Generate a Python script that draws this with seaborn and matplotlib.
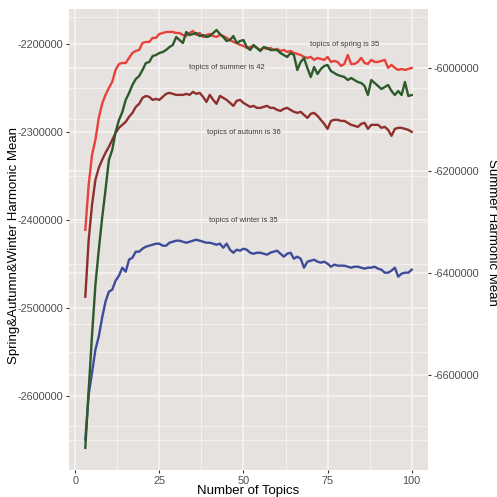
import matplotlib
matplotlib.use("Agg")
import numpy as np
import pandas as pd
import seaborn as sns
from matplotlib import pyplot as plt
from matplotlib import transforms
from matplotlib.ticker import FuncFormatter, MultipleLocator

topics = list(range(3, 101))

spring = [-2411000, -2359900, -2325800, -2308800, -2283800, -2267800, -2257600, -2249700, -2242800, -2229200,
          -2222400, -2221300, -2221300, -2215600, -2209900, -2207600, -2206500, -2198500, -2197400, -2197400,
          -2192800, -2192800, -2188300, -2187200, -2186000, -2186000, -2186000, -2187200, -2187200, -2189400,
          -2190600, -2187200, -2184900, -2189400, -2187200, -2191700, -2189400, -2188300, -2190600, -2191700,
          -2189400, -2190600, -2192800, -2195100, -2197400, -2198500, -2200800, -2201900, -2204200, -2203100,
          -2201900, -2204200, -2206500, -2204200, -2205300, -2204200, -2206500, -2205300, -2207600, -2206500,
          -2208800, -2207600, -2209900, -2211000, -2212200, -2214400, -2215600, -2214400, -2217800, -2215600,
          -2216700, -2217800, -2214400, -2220100, -2219000, -2220100, -2224700, -2222400, -2212200, -2222400,
          -2222400, -2220100, -2215600, -2221300, -2222400, -2217800, -2220100, -2220100, -2219000, -2217800,
          -2226900, -2223500, -2226900, -2229200, -2228100, -2229200, -2228100, -2226900]

summer = [-6742300, -6628900, -6521400, -6423600, -6355200, -6292700, -6237900, -6179300, -6159700, -6124500,
          -6101100, -6085400, -6062000, -6048300, -6032600, -6020900, -6015100, -6003300, -5989600, -5987700,
          -5976000, -5974000, -5970100, -5968100, -5964200, -5958400, -5954400, -5938800, -5944700, -5950500,
          -5929000, -5934900, -5932900, -5931000, -5936900, -5934900, -5938800, -5936900, -5931000, -5925100,
          -5932900, -5938800, -5946600, -5944700, -5936900, -5950500, -5946600, -5944700, -5958400, -5964200,
          -5954400, -5960300, -5966200, -5958400, -5960300, -5964200, -5964200, -5964200, -5970100, -5974000,
          -5977900, -5970100, -5974000, -6003300, -5987700, -5979900, -5999400, -6017000, -5997500, -6011100,
          -6001400, -5995500, -5993500, -6005300, -6009200, -6013100, -6015100, -6017000, -6022900, -6019000,
          -6022900, -6026800, -6028700, -6034600, -6052200, -6022900, -6028700, -6034600, -6040500, -6036600,
          -6032600, -6044400, -6052200, -6044400, -6052200, -6026800, -6054200, -6052200]

autumn = [-2487200, -2422400, -2382600, -2354200, -2340600, -2331500, -2323500, -2316700, -2308800, -2300800,
          -2295100, -2291700, -2288300, -2282600, -2278100, -2271300, -2267800, -2261000, -2258800, -2259900,
          -2263300, -2262200, -2263300, -2259900, -2256500, -2255300, -2256500, -2257600, -2257600, -2257600,
          -2256500, -2257600, -2254200, -2256500, -2255300, -2259900, -2265600, -2257600, -2263300, -2267800,
          -2258800, -2261000, -2263300, -2266700, -2270100, -2264400, -2263300, -2266700, -2269000, -2271300,
          -2270100, -2272400, -2272400, -2271300, -2270100, -2272400, -2272400, -2274700, -2275800, -2273500,
          -2272400, -2274700, -2276900, -2278100, -2276900, -2280300, -2283800, -2279200, -2278100, -2281500,
          -2286000, -2290600, -2296300, -2287200, -2286000, -2286000, -2287200, -2287200, -2289400, -2291700,
          -2292800, -2294000, -2290600, -2289400, -2296300, -2291700, -2291700, -2291700, -2295100, -2294000,
          -2297400, -2304200, -2296300, -2295100, -2295100, -2296300, -2297400, -2299700]

winter = [-2649700, -2598500, -2573500, -2547400, -2532600, -2511000, -2492800, -2481500, -2479200, -2469000,
          -2463300, -2454200, -2458800, -2445100, -2442800, -2436000, -2436000, -2432600, -2430300, -2429200,
          -2428100, -2426900, -2426900, -2429200, -2429200, -2425800, -2424700, -2423500, -2423500, -2424700,
          -2425800, -2424700, -2423500, -2422400, -2423500, -2424700, -2425800, -2425800, -2426900, -2428100,
          -2426900, -2431500, -2426900, -2433800, -2437200, -2433800, -2434900, -2432600, -2433800, -2437200,
          -2438300, -2437200, -2437200, -2438300, -2439400, -2437200, -2436000, -2434900, -2438300, -2441700,
          -2438300, -2437200, -2444000, -2441700, -2444000, -2454200, -2447400, -2446300, -2445100, -2447400,
          -2448500, -2447400, -2449700, -2453100, -2450800, -2451900, -2451900, -2451900, -2453100, -2454200,
          -2453100, -2453100, -2454200, -2455300, -2454200, -2454200, -2453100, -2455300, -2456500, -2459900,
          -2459900, -2457600, -2454200, -2464400, -2461000, -2459900, -2459900, -2456500]

notes = ['topics of spring is 35', 'topics of summer is 42', 'topics of autumn is 36', 'topics of winter is 35']
note_x = [80, 45, 50, 50]
note_y = [-2200500, -2227000, -2300500, -2400000]

right_grid = [-6700000, -6600000, -6500000, -6400000, -6300000, -6200000, -6100000, -6000000, -5900000]

bg = '#E6E2DF'
grid_col = '#F7F5F3'
tick_col = '#4D4D4D'

df = pd.DataFrame({'topics': topics, 'spring': spring, 'summer': summer,
                   'autumn': autumn, 'winter': winter})

plt.rcParams['font.family'] = ['Liberation Sans', 'DejaVu Sans']

fig = plt.figure(figsize=(4.97, 4.97), dpi=100)
ax = fig.add_axes([69 / 497, 1 - 470 / 497, 359 / 497, 461 / 497])
ax.set_facecolor(bg)
for s in ax.spines.values():
    s.set_visible(False)
ax2 = ax.twinx()
ax2.patch.set_visible(False)
for s in ax2.spines.values():
    s.set_visible(False)

ax.set_xlim(-1.85, 104.85)
ax.set_ylim(-2684400, -2159900)
ax2.set_ylim(-6785700, -5884000)

ax.xaxis.set_major_locator(MultipleLocator(25))
ax.xaxis.set_minor_locator(MultipleLocator(12.5))
ax.yaxis.set_major_locator(MultipleLocator(100000))
ax.yaxis.set_minor_locator(MultipleLocator(50000))
ax2.yaxis.set_major_locator(MultipleLocator(200000))
ax2.yaxis.set_minor_locator(MultipleLocator(100000))

fmt = FuncFormatter(lambda v, p: '%d' % v)
ax.yaxis.set_major_formatter(fmt)
ax2.yaxis.set_major_formatter(fmt)

ax.set_axisbelow(True)
ax.grid(which='major', color=grid_col, lw=1.1)
ax.grid(which='minor', color=grid_col, lw=0.6)
# gridlines of the secondary axis, drawn under the primary curves
trans = transforms.blended_transform_factory(ax.transAxes, ax2.transData)
for v in right_grid:
    ax.plot([0, 1], [v, v], transform=trans, color=grid_col,
            lw=1.1 if v % 200000 == 0 else 0.6, zorder=0.6)

for a in (ax, ax2):
    a.tick_params(which='major', length=2.5, width=0.8, color='#333333', pad=1.5,
                  labelsize=7.8, labelcolor=tick_col)
    a.tick_params(which='minor', length=0)

sns.lineplot(data=df, x='topics', y='spring', ax=ax, color='#E8413A', lw=1.7)
sns.lineplot(data=df, x='topics', y='autumn', ax=ax, color='#8E2F2C', lw=1.7)
sns.lineplot(data=df, x='topics', y='winter', ax=ax, color='#3D4C9A', lw=1.7)
sns.lineplot(data=df, x='topics', y='summer', ax=ax2, color='#2C5A2A', lw=1.7)

for s, x, y in zip(notes, note_x, note_y):
    ax.text(x, y, s, ha='center', va='center', fontsize=5.4, color='#3A3A3A')

ax.set_xlabel('')
ax.set_ylabel('')
ax2.set_ylabel('')
fig.text(248.5 / 497, 1 - 491 / 497, 'Number of Topics', ha='center', va='center', fontsize=9.5)
fig.text(14 / 497, 1 - 245 / 497, 'Spring&Autumn&Winter Harmonic Mean', rotation=90,
         ha='center', va='center', fontsize=9.5)
fig.text(492 / 497, 1 - 232 / 497, 'Summer Harmonic Mean', rotation=270,
         ha='center', va='center', fontsize=9.5)

fig.savefig('out.png', dpi=100)
